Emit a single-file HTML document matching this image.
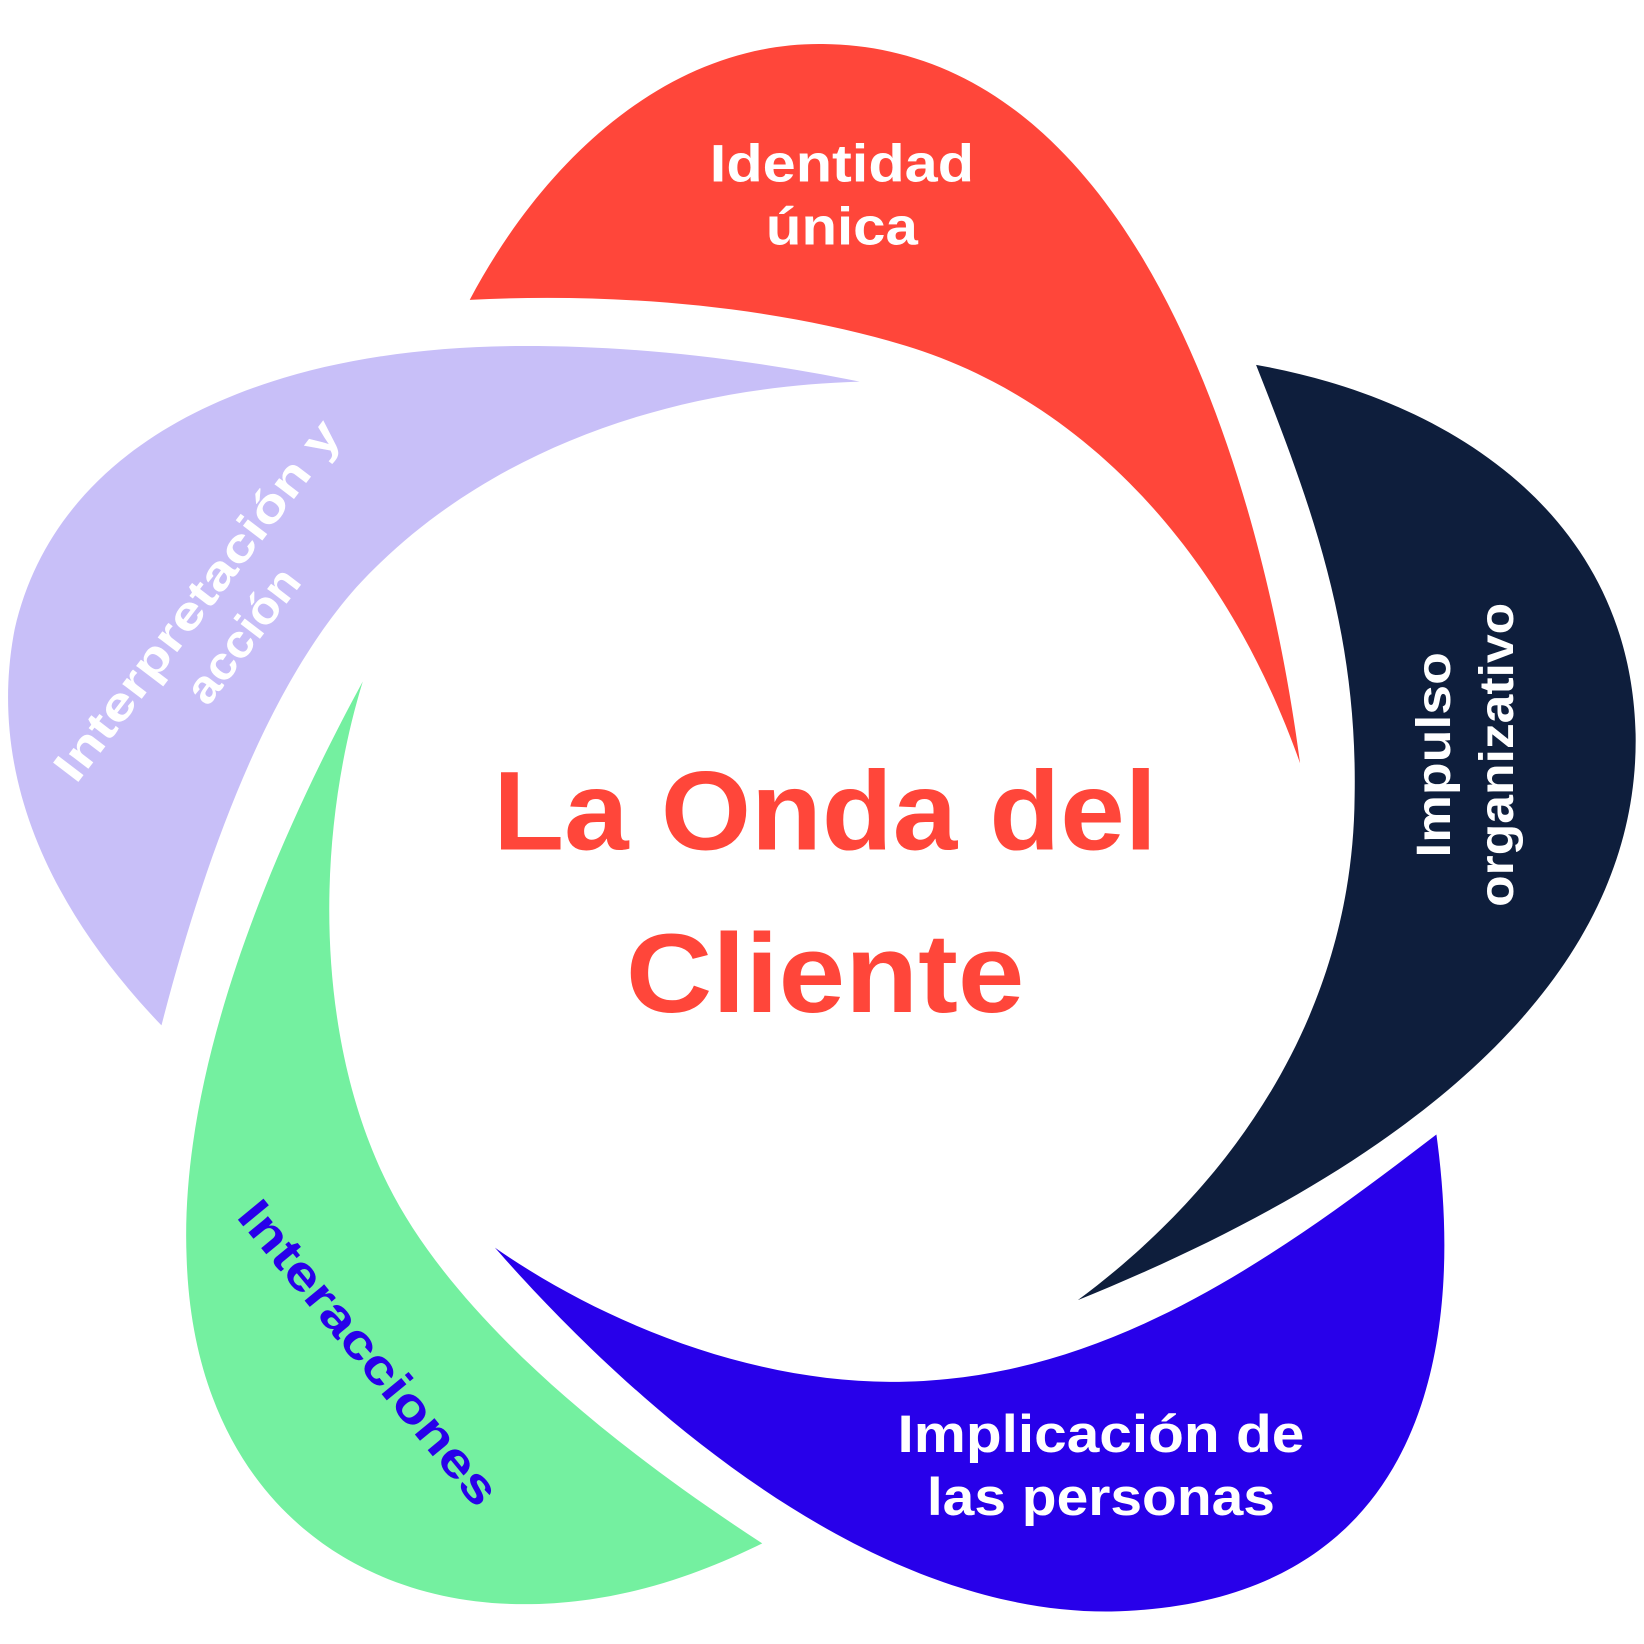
<!DOCTYPE html>
<html><head><meta charset="utf-8"><style>html,body{margin:0;padding:0;background:#fff}svg{display:block}text{font-family:"Liberation Sans",sans-serif;font-weight:bold}</style></head>
<body>
<svg width="1644" height="1644" viewBox="0 0 1568 1568" xmlns="http://www.w3.org/2000/svg">
<rect width="1568" height="1568" fill="#fff"/>
<path fill="#FF463A" d="M448,286 C520,150 640,40 785,42 C1100,45 1210,500 1240,728 C1170,530 1040,390 880,335 C760,295 600,278 448,286 Z"/>
<path fill="#0E1E3C" d="M1198,348 C1380,380 1555,490 1560,700 C1565,980 1250,1150 1028,1240 C1150,1150 1290,990 1292,760 C1295,600 1250,480 1198,348 Z"/>
<path fill="#2800EA" d="M1370,1082 C1400,1300 1350,1530 1060,1537 C800,1540 560,1290 472,1190 C580,1265 720,1318 850,1318 C1050,1318 1210,1205 1370,1082 Z"/>
<path fill="#74F0A0" d="M346,650 C270,790 170,1010 178,1200 C185,1420 330,1530 500,1530 C600,1530 680,1495 727,1472 C570,1370 430,1250 370,1130 C300,990 300,800 346,650 Z"/>
<path fill="#C8BFF8" d="M820,364 C700,340 600,330 500,330 C250,330 55,420 14,600 C-15,750 60,880 154,978 C200,800 260,650 340,560 C450,440 620,370 820,364 Z"/>
<g fill="#fff" font-size="50" text-anchor="middle">
<text x="803" y="173" textLength="252" lengthAdjust="spacingAndGlyphs">Identidad</text>
<text x="803" y="233" textLength="145" lengthAdjust="spacingAndGlyphs">única</text>
<text x="1050" y="1385" textLength="388" lengthAdjust="spacingAndGlyphs">Implicación de</text>
<text x="1050" y="1445" textLength="332" lengthAdjust="spacingAndGlyphs">las personas</text>
</g>
<g fill="#fff" font-size="46" text-anchor="middle" transform="translate(1395,720) rotate(-90)">
<text x="0" y="-12" textLength="196" lengthAdjust="spacingAndGlyphs">Impulso</text>
<text x="0" y="48" textLength="290" lengthAdjust="spacingAndGlyphs">organizativo</text>
</g>
<g fill="#fff" font-size="44" text-anchor="middle" transform="translate(187,572) rotate(-52.7)">
<text x="0" y="16" textLength="420" lengthAdjust="spacingAndGlyphs">Interpretación y</text>
<text x="0" y="71" textLength="150" lengthAdjust="spacingAndGlyphs">acción</text>
</g>
<text fill="#2800EA" font-size="46" text-anchor="middle" transform="translate(352,1290) rotate(50.5)" x="0" y="16" textLength="362" lengthAdjust="spacingAndGlyphs">Interacciones</text>
<g fill="#FF463A" font-size="107" text-anchor="middle">
<text x="787" y="810" textLength="633" lengthAdjust="spacingAndGlyphs">La Onda del</text>
<text x="787" y="965" textLength="380" lengthAdjust="spacingAndGlyphs">Cliente</text>
</g>
</svg>
</body></html>
